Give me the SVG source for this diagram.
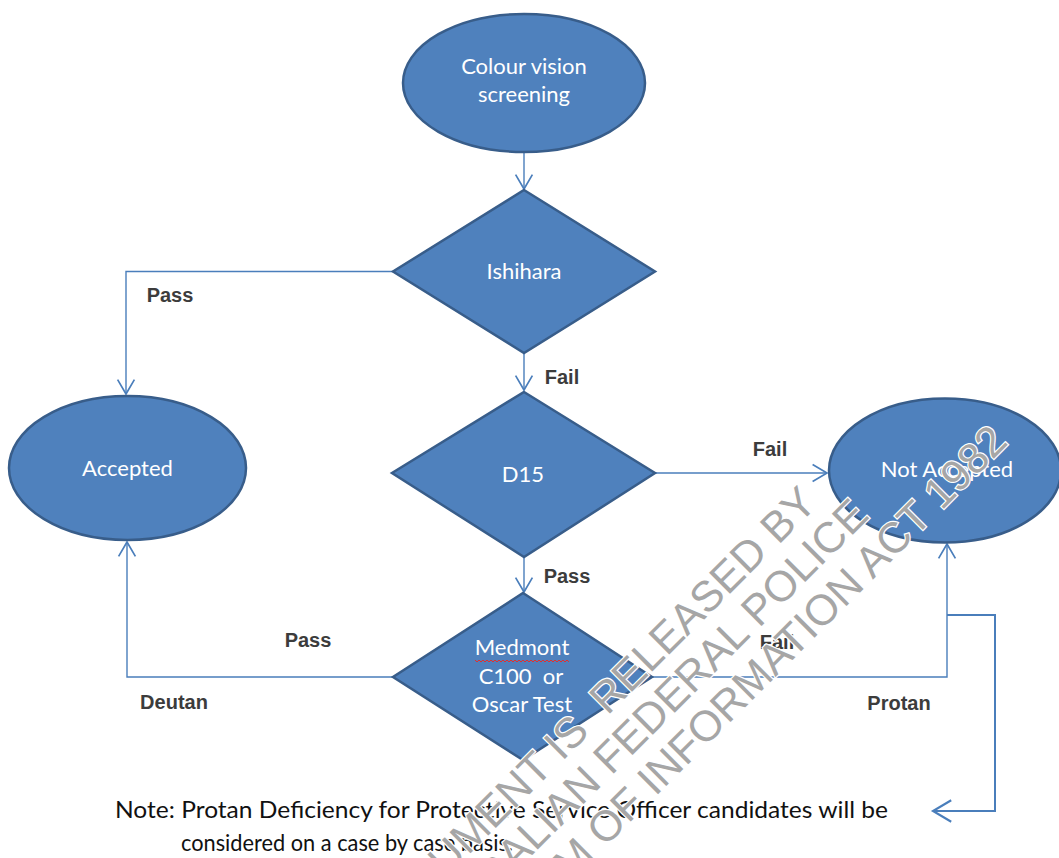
<svg xmlns="http://www.w3.org/2000/svg" width="1059" height="858" viewBox="0 0 1059 858">
<style>
.node{fill:#4F81BD;stroke:#385D8A;stroke-width:2.5}
.nt{font-family:Lato,"Open Sans",sans-serif;font-size:22px;fill:#ffffff;text-anchor:middle}
.conn{fill:none;stroke:#4A7EBB;stroke-width:1.4}
.lbl{font-family:"Liberation Sans",Arial,sans-serif;font-weight:bold;font-size:20px;fill:#3c3c3c;text-anchor:middle}
.note{font-family:Lato,"Open Sans",sans-serif;font-size:24px;fill:#111111}
.wm{font-family:"Liberation Sans",Arial,sans-serif;font-size:43px;fill:#a6a6a6;stroke:#ffffff;stroke-width:2.5;paint-order:stroke;text-anchor:end}
</style>
<defs>
<marker id="arr" markerUnits="userSpaceOnUse" markerWidth="24" markerHeight="24" viewBox="-14 -10 16 20" refX="0" refY="0" orient="auto">
<path d="M-12,-7 L0,0 L-12,7" fill="none" stroke="#4A7EBB" stroke-width="1.4"/>
</marker>
<marker id="arrBig" markerUnits="userSpaceOnUse" markerWidth="30" markerHeight="30" viewBox="-20 -14 22 28" refX="0" refY="0" orient="auto">
<path d="M-17,-10 L0,0 L-17,10" fill="none" stroke="#4A7EBB" stroke-width="2"/>
</marker>
</defs>
<rect width="1059" height="858" fill="#ffffff"/>

<g id="connectors">
<path class="conn" d="M524,153 V189" marker-end="url(#arr)"/>
<path class="conn" d="M393,271.5 H126 V394" marker-end="url(#arr)"/>
<path class="conn" d="M524,353 V390" marker-end="url(#arr)"/>
<path class="conn" d="M655,473 H827" marker-end="url(#arr)"/>
<path class="conn" d="M524,557 V592" marker-end="url(#arr)"/>
<path class="conn" d="M393,677 H127 V542" marker-end="url(#arr)"/>
<path class="conn" d="M650,677 H947 V544" marker-end="url(#arr)"/>
<path class="conn" style="stroke-width:2" d="M947,615 H995 V811 H933" marker-end="url(#arrBig)"/>
</g>

<g id="node-start">
<ellipse class="node" cx="524" cy="83" rx="121" ry="69"/>
<text class="nt" x="524" y="74">Colour vision</text>
<text class="nt" x="524" y="102">screening</text>
</g>

<g id="node-ishihara">
<polygon class="node" points="524,190 655,271.5 524,353 393,271.5"/>
<text class="nt" x="524" y="279">Ishihara</text>
</g>

<g id="node-accepted">
<ellipse class="node" cx="127.5" cy="468" rx="118.5" ry="72"/>
<text class="nt" x="127.5" y="476">Accepted</text>
</g>

<g id="node-d15">
<polygon class="node" points="524,392 655,473 524,557 392,473"/>
<text class="nt" x="523" y="482">D15</text>
</g>

<g id="node-notaccepted">
<ellipse class="node" cx="945" cy="470.5" rx="116" ry="72"/>
<text class="nt" x="947" y="477">Not Accepted</text>
</g>

<g id="node-medmont">
<polygon class="node" points="523,593 652,677 523,760 393,677"/>
<text class="nt" x="522" y="655">Medmont</text>
<path d="M475,660 l2,2 l2,-2 l2,2 l2,-2 l2,2 l2,-2 l2,2 l2,-2 l2,2 l2,-2 l2,2 l2,-2 l2,2 l2,-2 l2,2 l2,-2 l2,2 l2,-2 l2,2 l2,-2 l2,2 l2,-2 l2,2 l2,-2 l2,2 l2,-2 l2,2 l2,-2 l2,2 l2,-2 l2,2 l2,-2 l2,2 l2,-2 l2,2 l2,-2 l2,2 l2,-2 l2,2 l2,-2 l2,2 l2,-2 l2,2 l2,-2 l2,2 l2,-2 l2,2" fill="none" stroke="#e03030" stroke-width="1"/>
<text class="nt" x="521" y="684" xml:space="preserve">C100  or</text>
<text class="nt" x="522" y="712">Oscar Test</text>
</g>

<g id="labels">
<text class="lbl" x="170" y="302">Pass</text>
<text class="lbl" x="562" y="384">Fail</text>
<text class="lbl" x="770" y="456">Fail</text>
<text class="lbl" x="567" y="583">Pass</text>
<text class="lbl" x="308" y="647">Pass</text>
<text class="lbl" x="777" y="649">Fail</text>
<text class="lbl" x="174" y="709">Deutan</text>
<text class="lbl" x="899" y="710">Protan</text>
</g>

<g id="note">
<text class="note" x="115" y="818" textLength="773" lengthAdjust="spacingAndGlyphs">Note: Protan Deficiency for Protective Service Officer candidates will be</text>
<text class="note" x="181" y="851" textLength="332" lengthAdjust="spacingAndGlyphs">considered on a case by case basis.</text>
</g>

<g id="watermark" transform="rotate(-45)">
<text class="wm" x="222" y="936" xml:space="preserve">THIS DOCUMENT IS  RELEASED BY</text>
<text class="wm" x="250" y="981">AUSTRALIAN FEDERAL POLICE</text>
<text class="wm" x="400" y="1027">UNDER FREEDOM OF INFORMATION ACT 1982</text>
</g>
</svg>
